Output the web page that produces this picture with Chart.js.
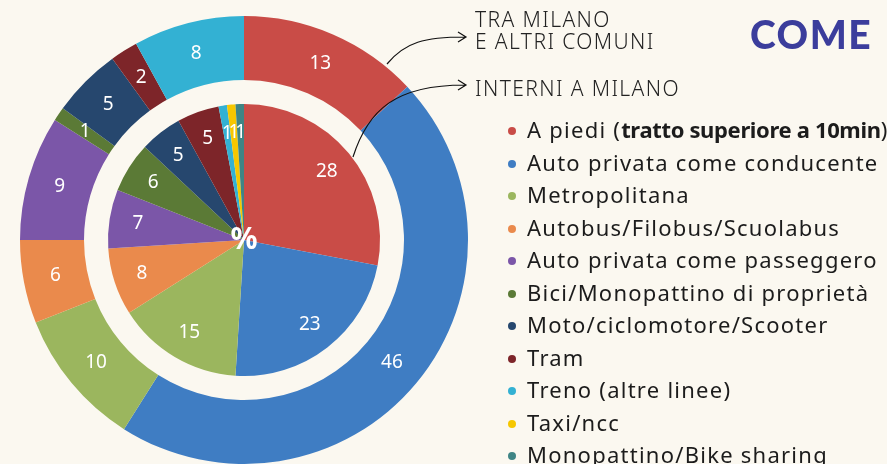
<!DOCTYPE html>
<html>
<head>
<meta charset="utf-8">
<script src="https://cdn.jsdelivr.net/npm/chart.js@4/dist/chart.umd.min.js"></script>
<style>
  html, body { margin: 0; padding: 0; background: #fbf8f0; }
  #wrap { position: relative; width: 887px; height: 464px; overflow: hidden; font-family: "Noto Sans", sans-serif; }
  #wrap canvas { position: absolute; left: 0; top: 0; }
  .note { position: absolute; left: 475px; font-size: 21px; font-weight: 300; color: #222; line-height: 22px; letter-spacing: 1.4px; }
  #title { position: absolute; left: 750px; top: 11px; font-family: Lato, sans-serif; font-weight: 900; font-size: 39px; color: #3b3d9c; letter-spacing: 1.5px; }
  #legend { position: absolute; left: 508px; top: 113px; font-size: 22px; color: #1c1c1c; letter-spacing: 1.25px; }
  #legend div { height: 32.5px; line-height: 32.5px; white-space: nowrap; }
  #legend b { letter-spacing: -0.35px; }
  #legend i { display: inline-block; width: 8px; height: 8px; border-radius: 50%; margin-right: 11px; vertical-align: 3px; }
</style>
</head>
<body>
<div id="wrap">
  <canvas id="pieChart" width="887" height="464"></canvas>
  <div class="note" style="top:8px">TRA MILANO<br>E ALTRI COMUNI</div>
  <div class="note" style="top:77px">INTERNI A MILANO</div>
  <div id="title">COME</div>
  <div id="legend"></div>
</div>
<script>
// categorie (mezzo di trasporto)
const modes = [
    'A piedi', 'Auto privata come conducente', 'Metropolitana', 'Autobus/Filobus/Scuolabus',
    'Auto privata come passeggero', 'Bici/Monopattino di proprietà', 'Moto/ciclomotore/Scooter',
    'Tram', 'Treno (altre linee)', 'Taxi/ncc', 'Monopattino/Bike sharing'
];
// % spostamenti tra Milano e altri comuni (anello esterno)
const traComuni = [13, 46, 10, 6, 9, 1, 5, 2, 8, 0, 0];
// % spostamenti interni a Milano (torta interna)
const interniMilano = [28, 23, 15, 8, 7, 6, 5, 5, 1, 1, 1];
const colors = [
    '#c94c47', '#3f7dc3', '#9bb65e', '#ea8a4c', '#7b56a8', '#5b7a36',
    '#26476e', '#7d2529', '#33b1d3', '#f6c700', '#3f8585'
];

// legenda html
const legendEl = document.getElementById('legend');
modes.forEach((m, i) => {
    const row = document.createElement('div');
    let txt = m;
    if (i === 0) txt = 'A piedi (<b>tratto superiore a 10min</b>)';
    row.innerHTML = `<i style="background:${colors[i]}"></i>${txt}`;
    legendEl.appendChild(row);
});

// etichette bianche dentro le fette + simbolo % + frecce
const sliceLabels = {
    id: 'sliceLabels',
    afterDatasetsDraw(chart) {
        const ctx = chart.ctx;
        ctx.save();
        ctx.fillStyle = '#ffffff';
        ctx.font = '19px "Noto Sans"';
        ctx.textAlign = 'center';
        ctx.textBaseline = 'middle';
        [0, 2].forEach(di => {
            const meta = chart.getDatasetMeta(di);
            const values = chart.data.datasets[di].data;
            meta.data.forEach((arc, i) => {
                if (!values[i]) return;
                const mid = (arc.startAngle + arc.endAngle) / 2;
                const r = di === 0 ? (arc.innerRadius + arc.outerRadius) / 2 : arc.outerRadius * 0.79;
                ctx.fillText(values[i], arc.x + Math.cos(mid) * r, arc.y + Math.sin(mid) * r);
            });
        });
        const c = chart.getDatasetMeta(2).data[0];
        ctx.font = 'bold 30px "Noto Sans"';
        ctx.fillText('%', c.x, c.y);

        // frecce verso le note
        ctx.strokeStyle = '#111';
        ctx.lineWidth = 1.2;
        ctx.beginPath();
        ctx.moveTo(387, 64);
        ctx.bezierCurveTo(405, 42, 425, 37, 465, 37);
        ctx.moveTo(353, 157);
        ctx.bezierCurveTo(368, 110, 395, 85, 465, 85);
        ctx.moveTo(458, 32); ctx.lineTo(466, 37); ctx.lineTo(458, 42);
        ctx.moveTo(458, 80); ctx.lineTo(466, 85); ctx.lineTo(458, 90);
        ctx.stroke();
        ctx.restore();
    }
};

new Chart(document.getElementById('pieChart'), {
    type: 'doughnut',
    data: {
        labels: modes,
        datasets: [
            { data: traComuni, backgroundColor: colors, borderWidth: 0, weight: 64 },
            { data: [1], backgroundColor: 'rgba(0,0,0,0)', borderWidth: 0, weight: 24 },
            { data: interniMilano, backgroundColor: colors, borderWidth: 0, weight: 136 }
        ]
    },
    options: {
        responsive: false,
        animation: false,
        cutout: 0,
        layout: { padding: { left: 20, top: 16, right: 419, bottom: 0 } },
        plugins: {
            legend: { display: false },
            tooltip: { enabled: false }
        }
    },
    plugins: [sliceLabels]
});
</script>
</body>
</html>
